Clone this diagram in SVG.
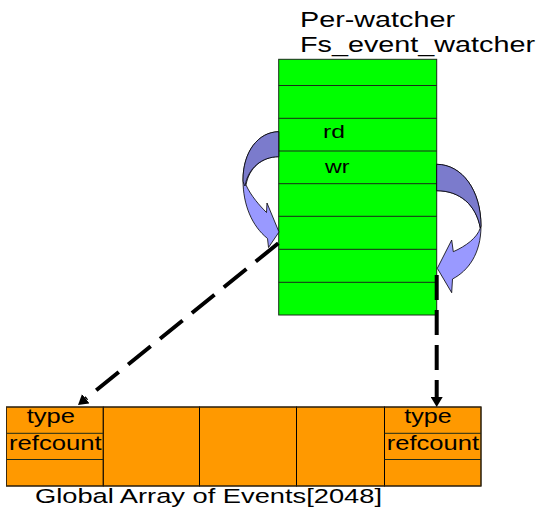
<svg xmlns="http://www.w3.org/2000/svg" width="538" height="509" viewBox="0 0 538 509">
  <style>
    .lbl { font-family: "Liberation Sans", Arial, sans-serif; fill: #000; }
    .green { fill: #00ff00; stroke: #1a2a1a; stroke-width: 1; }
    .row { stroke: #1a2a1a; stroke-width: 1; fill: none; }
    .cell { fill: #ff9900; stroke: #000; stroke-width: 1; }
    .arrDark { fill: #7b7bcc; stroke: #000; stroke-width: 0.8; }
    .arrLight { fill: #9999ff; stroke: #000; stroke-width: 0.8; }
    .dash { fill: none; stroke: #000; stroke-width: 4; }
  </style>
  <defs>
    <marker id="head" markerUnits="userSpaceOnUse" markerWidth="12" markerHeight="12" refX="0" refY="6" orient="auto">
      <path d="M0,0 L10,6 L0,12 Z" fill="#000"/>
    </marker>
  </defs>

  <rect width="538" height="509" fill="#fff"/>

  <g id="title">
    <text class="lbl" x="300" y="27" font-size="22" textLength="155" lengthAdjust="spacingAndGlyphs">Per-watcher</text>
    <text class="lbl" x="300" y="52" font-size="22" textLength="235" lengthAdjust="spacingAndGlyphs">Fs_event_watcher</text>
  </g>

  <g id="watcher">
    <rect class="green" x="278.7" y="59.3" width="158" height="255.7"/>
    <path class="row" d="M278.7,85.5H436.7 M278.7,118.3H436.7 M278.7,151H436.7 M278.7,183.7H436.7 M278.7,216.3H436.7 M278.7,249.3H436.7 M278.7,282.3H436.7"/>
    <text class="lbl" x="323" y="138" font-size="19" textLength="22" lengthAdjust="spacingAndGlyphs">rd</text>
    <text class="lbl" x="325" y="173.3" font-size="19" textLength="24.5" lengthAdjust="spacingAndGlyphs">wr</text>
  </g>

  <g id="rd-arrow">
    <path class="arrLight" d="M278.7,131.7 C258,132 243,152 243,180 C243,205 252,226 267.5,238.5 L268.5,247.5 L279,232 L267,203 L266.5,212.5 C260,206 251,196 246,185 C249,168 262,156.7 278.7,156.7 Z"/>
    <path class="arrDark" d="M278.7,131.7 C258,132 243,152 243,180 C243,182 243.8,184 245,186 C248,168 262,156.7 278.7,156.7 Z"/>
  </g>

  <g id="wr-arrow">
    <path class="arrLight" d="M436.7,164.3 C462,164.5 481,190 481,226 C481,254 468,271 452.5,279 L451.7,292.7 L437.3,268.3 L451.7,240 L453.3,251.7 C466,246 477,238 480.3,228 C476,205 460,190.7 436.7,190.7 Z"/>
    <path class="arrDark" d="M436.7,164.3 C462,164.5 481,190 481,226 L480.3,228 C476,205 460,190.7 436.7,190.7 Z"/>
  </g>

  <g id="events">
    <rect class="cell" x="6.5" y="407" width="96.8" height="79"/>
    <rect class="cell" x="103.3" y="407" width="96.2" height="79"/>
    <rect class="cell" x="199.5" y="407" width="97" height="79"/>
    <rect class="cell" x="296.5" y="407" width="88" height="79"/>
    <rect class="cell" x="384.5" y="407" width="96.5" height="79"/>
    <path class="row" d="M6.5,433.3H103.3 M6.5,459.5H103.3 M384.5,433.3H481 M384.5,459.5H481" stroke="#000"/>
    <rect x="6.5" y="407" width="474.5" height="79" fill="none" stroke="#3a2a10" stroke-width="1"/>
  </g>

  <g id="event-first-labels">
    <text class="lbl" x="26.7" y="423" font-size="20" textLength="48.3" lengthAdjust="spacingAndGlyphs">type</text>
    <text class="lbl" x="9" y="450" font-size="20" textLength="92.7" lengthAdjust="spacingAndGlyphs">refcount</text>
  </g>

  <g id="event-last-labels">
    <text class="lbl" x="404.3" y="423.3" font-size="20" textLength="47.4" lengthAdjust="spacingAndGlyphs">type</text>
    <text class="lbl" x="386.7" y="450" font-size="20" textLength="92.3" lengthAdjust="spacingAndGlyphs">refcount</text>
  </g>

  <g id="caption">
    <text class="lbl" x="35" y="503" font-size="20.5" textLength="347" lengthAdjust="spacingAndGlyphs">Global Array of Events[2048]</text>
  </g>

  <g id="connectors">
    <path class="dash" d="M278.3,243.3 L85.8,398.7" stroke-dasharray="29 12" marker-end="url(#head)"/>
    <path class="dash" d="M436.7,275 L436.7,397" stroke-dasharray="25 10" marker-end="url(#head)"/>
  </g>
</svg>
